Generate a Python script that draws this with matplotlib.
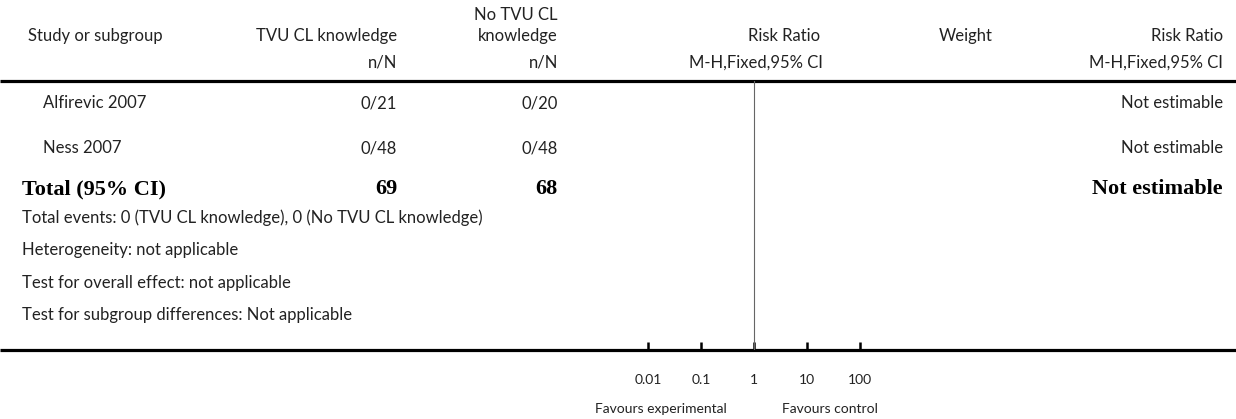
import matplotlib
matplotlib.use("Agg")
import matplotlib.pyplot as plt

# ---- data ----
studies = ["Alfirevic 2007", "Ness 2007"]
exp_events = [0, 0]
exp_total = [21, 48]
ctl_events = [0, 0]
ctl_total = [20, 48]
effect_text = ["Not estimable", "Not estimable"]
total_effect_text = "Not estimable"
exp_label = "TVU CL knowledge"
ctl_label = ["No TVU CL", "knowledge"]
footnotes = [
    "Total events: 0 (TVU CL knowledge), 0 (No TVU CL knowledge)",
    "Heterogeneity: not applicable",
    "Test for overall effect: not applicable",
    "Test for subgroup differences: Not applicable",
]
ticks = [0.01, 0.1, 1, 10, 100]
tick_labels = ["0.01", "0.1", "1", "10", "100"]
favours = ["Favours experimental", "Favours control"]

W, H = 1236, 419
fig = plt.figure(figsize=(W / 100, H / 100), dpi=100)
ax = fig.add_axes([0, 0, 1, 1])
ax.set_xlim(0, W)
ax.set_ylim(H, 0)
ax.axis("off")

SANS = ["Lato", "DejaVu Sans"]
SERIF = ["Liberation Serif", "DejaVu Serif"]
TC = "#222222"
fs = 12

def t(x, y, s, ha="left", bold=False, size=fs):
    ax.text(x, y, s, ha=ha, va="center", fontsize=size,
            family=SERIF if bold else SANS,
            fontweight="bold" if bold else "normal",
            color="black" if bold else TC)

C1, C2, C3 = 397, 558, 1223

# header
t(28, 36, "Study or subgroup")
t(C1, 36, exp_label, ha="right")
t(C2, 15, ctl_label[0], ha="right")
t(C2, 36, ctl_label[1], ha="right")
t(C1, 62, "n/N", ha="right")
t(C2, 62, "n/N", ha="right")
t(820, 36, "Risk Ratio", ha="right")
t(756, 63, "M-H,Fixed,95% CI", ha="center")
t(966, 36, "Weight", ha="center")
t(C3, 36, "Risk Ratio", ha="right")
t(C3, 63, "M-H,Fixed,95% CI", ha="right")

# rows
row_y = [103, 148]
for i, name in enumerate(studies):
    y = row_y[i]
    t(43, y, name)
    t(C1, y, f"{exp_events[i]}/{exp_total[i]}", ha="right")
    t(C2, y, f"{ctl_events[i]}/{ctl_total[i]}", ha="right")
    t(C3, y, effect_text[i], ha="right")

t(22, 189, "Total (95% CI)", bold=True, size=16)
t(C1, 189, str(sum(exp_total)), ha="right", bold=True, size=16)
t(C2, 189, str(sum(ctl_total)), ha="right", bold=True, size=16)
t(C3, 189, total_effect_text, ha="right", bold=True, size=16)

for y, s in zip([218, 250, 283, 315], footnotes):
    t(22, y, s)

# thick rules
ax.plot([0, W], [81, 81], color="black", lw=2.3, solid_capstyle="butt")
ax.plot([0, W], [350, 350], color="black", lw=2.3, solid_capstyle="butt")

# forest axis (log scale)
dec = 53.0
x_one = 754.0
x0 = x_one - 3 * dec
x1 = x_one + 3 * dec
y_top, y_bot = 81, 350
fa = fig.add_axes([x0 / W, (H - y_bot) / H, (x1 - x0) / W, (y_bot - y_top) / H])
fa.patch.set_alpha(0)
fa.set_xscale("log")
fa.set_xlim(1e-3, 1e3)
fa.set_ylim(0, 1)
for sp in fa.spines.values():
    sp.set_visible(False)
fa.set_yticks([])
fa.set_xticks(ticks)
fa.set_xticklabels(tick_labels, family=SANS, fontsize=10, color=TC)
fa.minorticks_off()
fa.tick_params(axis="x", direction="in", length=6, width=1.8, pad=17.5, color="black")
fa.axvline(1, color="#666666", lw=0.8)

t(727, 409, favours[0], ha="right", size=10)
t(782, 409, favours[1], ha="left", size=10)

fig.savefig("out.png", dpi=100)
